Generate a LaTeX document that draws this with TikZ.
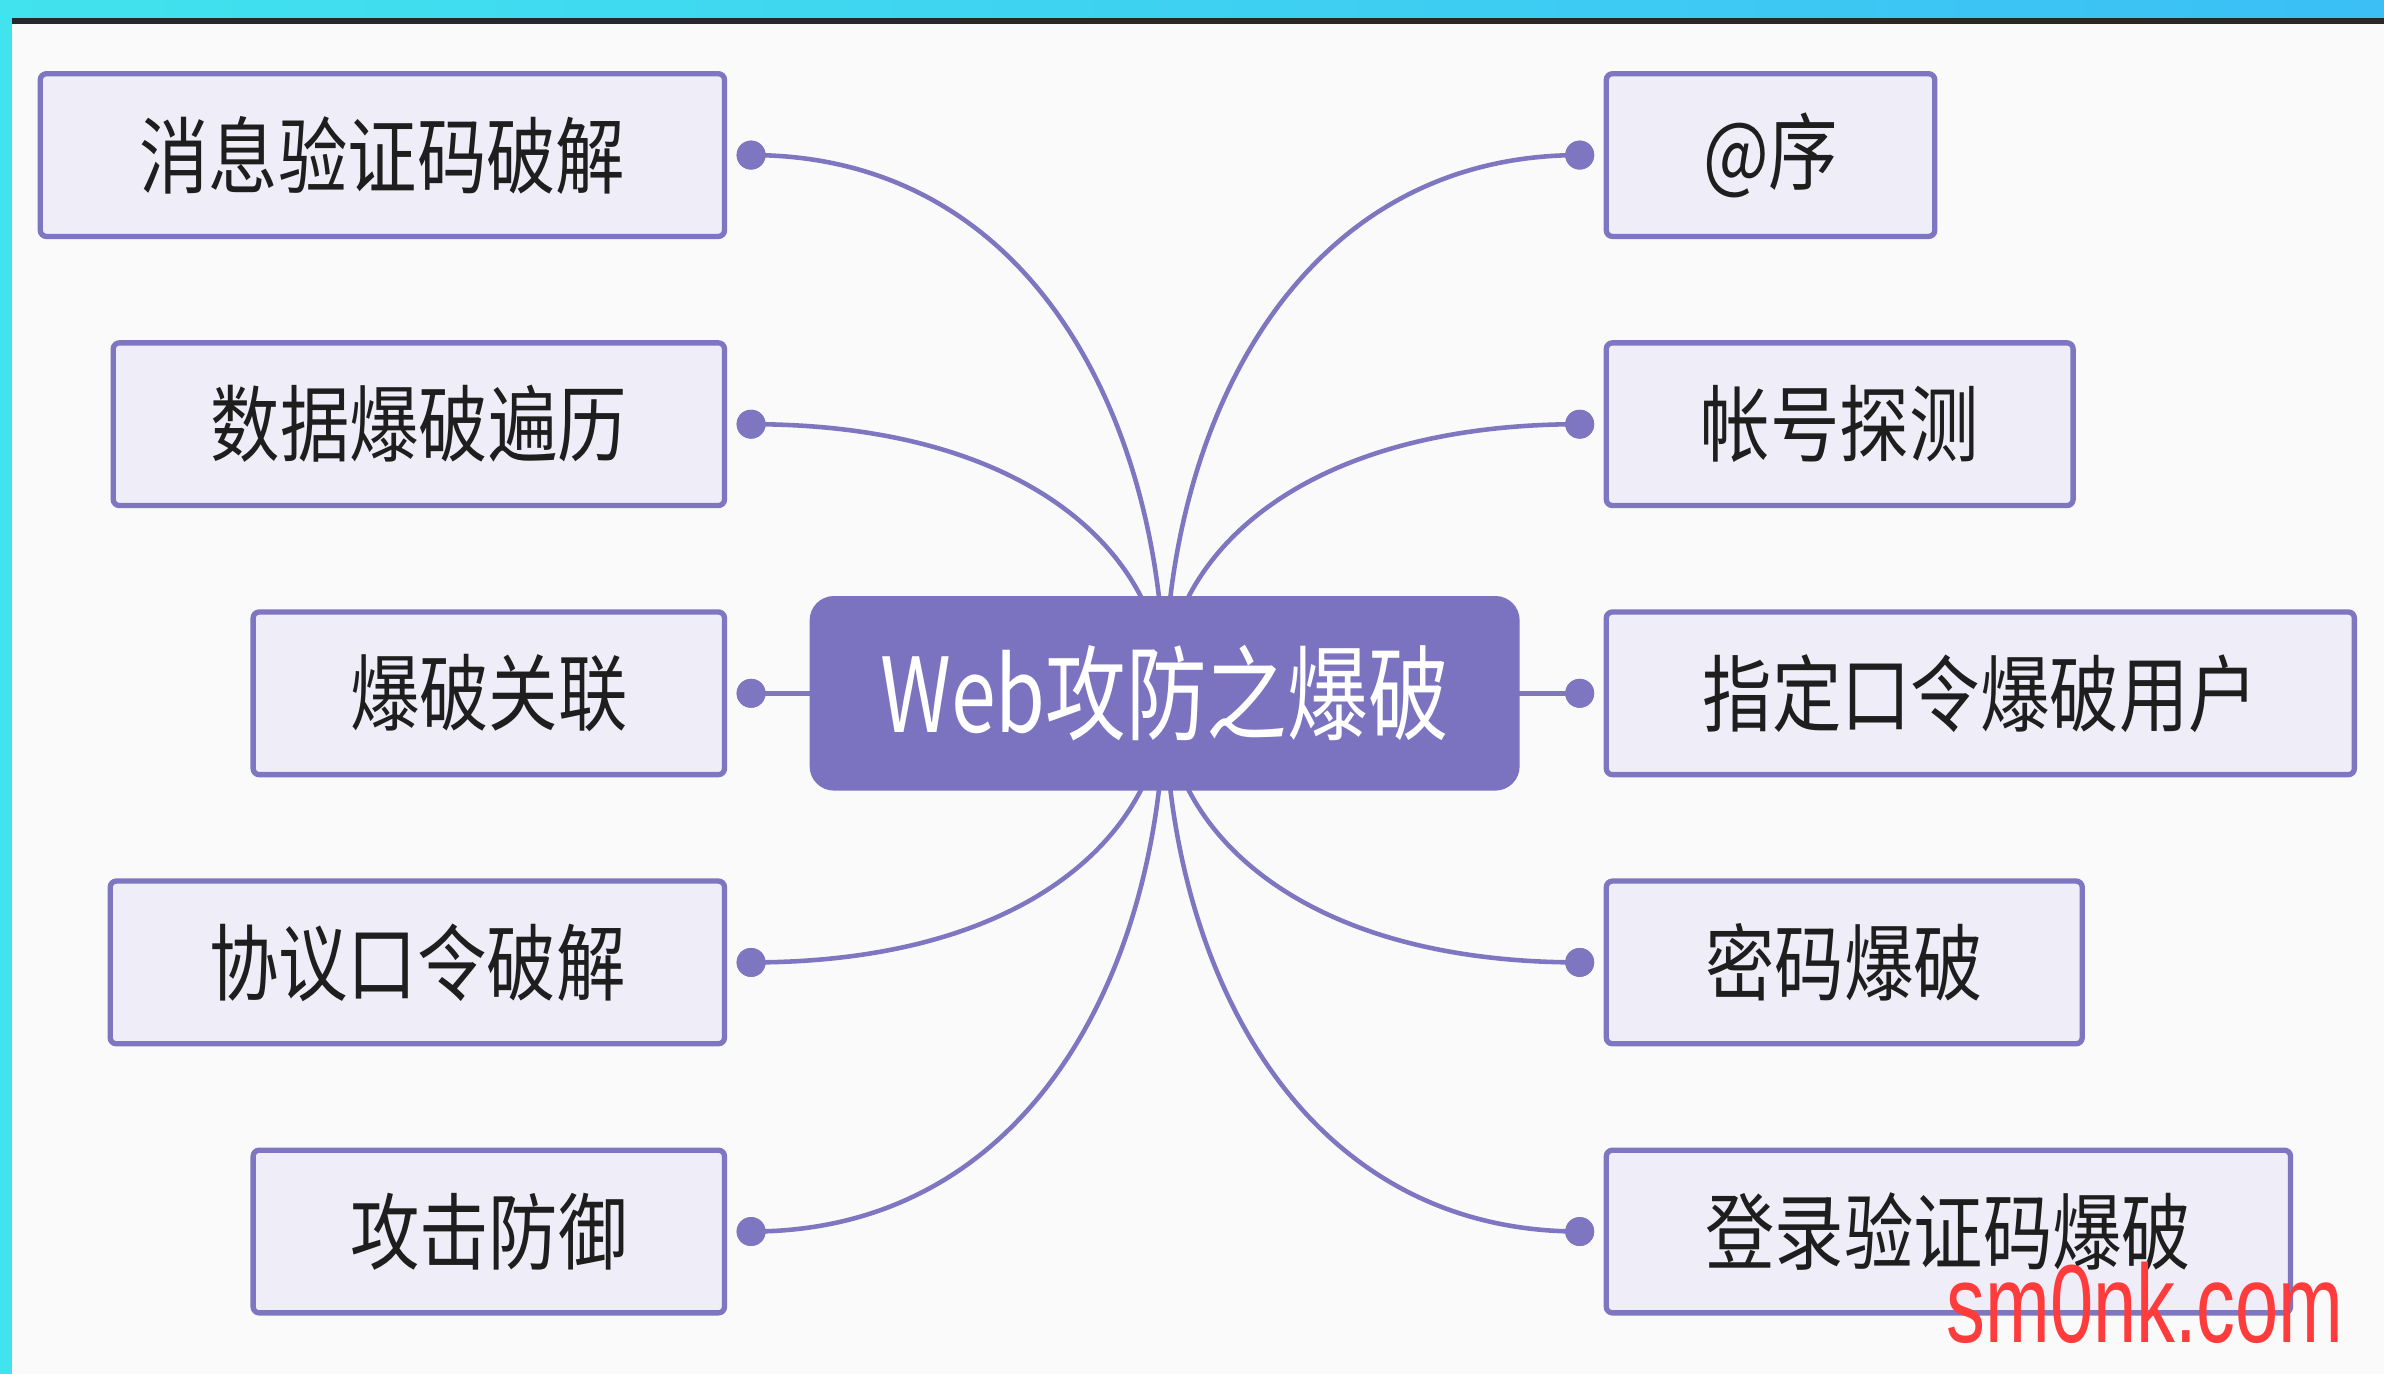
\documentclass[tikz,border=0pt]{standalone}
\usepackage{fontspec}
\newfontfamily\cjk[FakeStretch=0.83]{Noto Sans CJK SC}
\newfontfamily\cjkc[FakeStretch=0.78]{Noto Sans CJK SC}
\newfontfamily\wmfont[FakeStretch=0.70]{Liberation Sans}
\usetikzlibrary{calc}
\definecolor{bg}{HTML}{FAFAFA}
\definecolor{cyanA}{HTML}{41E3EE}
\definecolor{cyanB}{HTML}{3BBFF5}
\definecolor{darkline}{HTML}{282828}
\definecolor{purp}{HTML}{7E76C0}
\definecolor{purpfill}{HTML}{7B73BF}
\definecolor{boxfill}{HTML}{EFEDF7}
\definecolor{txt}{HTML}{1E1E1E}
\definecolor{wmred}{HTML}{FF3B3B}
\begin{document}
\begin{tikzpicture}[x=1pt,y=-1pt,
  topic/.style={draw=purp, line width=3.5pt, fill=boxfill, rounded corners=4pt,
    minimum height=107pt, inner sep=0pt, text=txt, font=\cjk\fontsize{55}{60}\selectfont},
  central/.style={fill=purpfill, rounded corners=16pt, minimum width=467pt,
    minimum height=128pt, inner sep=0pt, text=white, font=\cjkc\fontsize{68}{72}\selectfont},
  joint/.style={circle, fill=purp, minimum size=19pt, inner sep=0pt},
  link/.style={draw=purp, line width=3pt}]
\fill[bg] (0,0) rectangle (1568,904);
\useasboundingbox (0,0) rectangle (1568,904);
\shade[left color=cyanA, right color=cyanB] (0,0) rectangle (1568,12);
\fill[darkline] (8,12) rectangle (1568,16);
\fill[cyanA] (0,0) rectangle (8,904);

\coordinate (cc) at (766,456);
% joints
\node[joint] (dl1) at (494,102) {};
\node[joint] (dl2) at (494,279) {};
\node[joint] (dl3) at (494,456) {};
\node[joint] (dl4) at (494,633) {};
\node[joint] (dl5) at (494,810) {};
\node[joint] (dr1) at (1039,102) {};
\node[joint] (dr2) at (1039,279) {};
\node[joint] (dr3) at (1039,456) {};
\node[joint] (dr4) at (1039,633) {};
\node[joint] (dr5) at (1039,810) {};
% connectors
\foreach \d in {dl1,dl2,dl4,dl5}{
  \draw[link] (\d.center) .. controls +(186,0) and ($(cc)!0.5!(cc|-\d)$) .. (cc);
}
\foreach \d in {dr1,dr2,dr4,dr5}{
  \draw[link] (\d.center) .. controls +(-186,0) and ($(cc)!0.5!(cc|-\d)$) .. (cc);
}
\draw[link] (dl3.center) -- (cc);
\draw[link] (dr3.center) -- (cc);

\node[central] (c) at (cc) {Web攻防之爆破};

% topics
\node[topic, minimum width=450pt] (l1) at (251.5,102) {消息验证码破解};
\node[topic, minimum width=402pt] (l2) at (275.5,279) {数据爆破遍历};
\node[topic, minimum width=310pt] (l3) at (321.5,456) {爆破关联};
\node[topic, minimum width=404pt] (l4) at (274.5,633) {协议口令破解};
\node[topic, minimum width=310pt] (l5) at (321.5,810) {攻击防御};
\node[topic, minimum width=216pt] (r1) at (1164.5,102) {@序};
\node[topic, minimum width=307pt] (r2) at (1210,279) {帐号探测};
\node[topic, minimum width=492pt] (r3) at (1302.5,456) {指定口令爆破用户};
\node[topic, minimum width=313pt] (r4) at (1213,633) {密码爆破};
\node[topic, minimum width=450pt] (r5) at (1281.5,810) {登录验证码爆破};

% joints on top
\foreach \d in {dl1,dl2,dl3,dl4,dl5,dr1,dr2,dr3,dr4,dr5}{
  \fill[purp] (\d) circle (9.5pt);
}

\node[anchor=base west, inner sep=0pt, text=wmred, font=\wmfont\fontsize{73}{80}\selectfont] (wm) at (1280,883) {sm0nk.com};
\end{tikzpicture}
\end{document}
